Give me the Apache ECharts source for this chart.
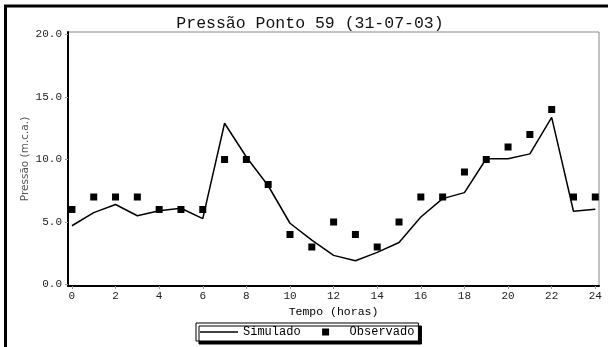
<!DOCTYPE html>
<html>
<head>
<meta charset="utf-8">
<script src="https://cdn.jsdelivr.net/npm/echarts@6/dist/echarts.min.js"></script>
<style>
html,body{margin:0;padding:0;background:#fff;}
#chart{width:608px;height:347px;}
</style>
</head>
<body>
<div id="chart"></div>
<script>
const hours = [0,1,2,3,4,5,6,7,8,9,10,11,12,13,14,15,16,17,18,19,20,21,22,23,24];
const simulado = [4.7,5.75,6.4,5.5,5.9,6.1,5.27,12.9,10.2,7.9,4.9,3.55,2.33,1.9,2.57,3.36,5.4,6.87,7.35,10.06,10.06,10.45,13.37,5.86,6.02];
const observado = [6,7,7,7,6,6,6,10,10,8,4,3,5,4,3,5,7,7,9,10,11,12,14,7,7];
const xTicks = [0,2,4,6,8,10,12,14,16,18,20,22,24];
const yTicks = [0,5,10,15,20];

const mono = 'Liberation Mono, Courier New, monospace';
const chart = echarts.init(document.getElementById('chart'), null, {renderer:'canvas'});
chart.setOption({
  animation: false,
  backgroundColor: '#fff',
  title: {
    text: 'Pressão Ponto 59 (31-07-03)',
    left: 305, top: 10, textAlign: 'center',
    textStyle: {fontFamily: mono, fontSize: 16.5, fontWeight: 'normal', color: '#111'}
  },
  grid: {left: 68, right: 9, top: 32, bottom: 61, show: true, borderColor: '#888', borderWidth: 1, containLabel: false},
  legend: {
    left: 196, top: 323,
    padding: [3, 4, 3, 4],
    itemGap: 6,
    itemWidth: 38, itemHeight: 7,
    backgroundColor: '#fff',
    borderColor: '#000', borderWidth: 1, borderRadius: 0,
    shadowColor: '#000', shadowBlur: 0, shadowOffsetX: 3, shadowOffsetY: 3,
    textStyle: {fontFamily: mono, fontSize: 12, color: '#000'},
    data: [
      {name: 'Simulado', icon: 'path://M0,2.75L38,2.75L38,4.25L0,4.25Z M0,0M38,7', itemStyle: {color: '#000'}},
      {name: 'Observado', icon: 'path://M0,0M38,7M15.5,0L22.5,0L22.5,7L15.5,7Z', itemStyle: {color: '#000'}}
    ]
  },
  xAxis: {
    type: 'value', min: -0.18, max: 24.17,
    name: 'Tempo (horas)', nameLocation: 'middle', nameGap: 20, nameMoveOverlap: false,
    nameTextStyle: {fontFamily: mono, fontSize: 11.5, color: '#000'},
    axisLine: {show: true, onZero: false, lineStyle: {color: '#000', width: 2}},
    axisTick: {show: true, length: 3, customValues: xTicks, lineStyle: {color: '#999'}},
    axisLabel: {customValues: xTicks, fontFamily: mono, fontSize: 11, color: '#222', margin: 5},
    splitLine: {show: false}
  },
  yAxis: {
    type: 'value', min: -0.12, max: 20.2,
    name: 'Pressão (m.c.a.)', nameLocation: 'middle', nameGap: 37, nameMoveOverlap: false,
    nameTextStyle: {fontFamily: 'DejaVu Sans, Verdana, sans-serif', fontSize: 10.5, color: '#555'},
    axisLine: {show: true, onZero: false, lineStyle: {color: '#000', width: 2}},
    axisTick: {show: true, length: 3, customValues: yTicks, lineStyle: {color: '#999'}},
    axisLabel: {customValues: yTicks, formatter: v => v.toFixed(1), fontFamily: mono, fontSize: 11, color: '#222', margin: 6},
    splitLine: {show: false}
  },
  graphic: [{
    type: 'rect', silent: true,
    shape: {x: 5.5, y: 6, width: 800, height: 600},
    style: {fill: 'none', stroke: '#000', lineWidth: 3}
  }],
  series: [
    {
      name: 'Simulado', type: 'line',
      data: hours.map((h, i) => [h, simulado[i]]),
      showSymbol: false, symbol: 'none',
      lineStyle: {color: '#000', width: 1.5},
      itemStyle: {color: '#000'}
    },
    {
      name: 'Observado', type: 'scatter',
      data: hours.map((h, i) => [h, observado[i]]),
      symbol: 'rect', symbolSize: 7,
      itemStyle: {color: '#000', opacity: 1}
    }
  ]
});
</script>
</body>
</html>
